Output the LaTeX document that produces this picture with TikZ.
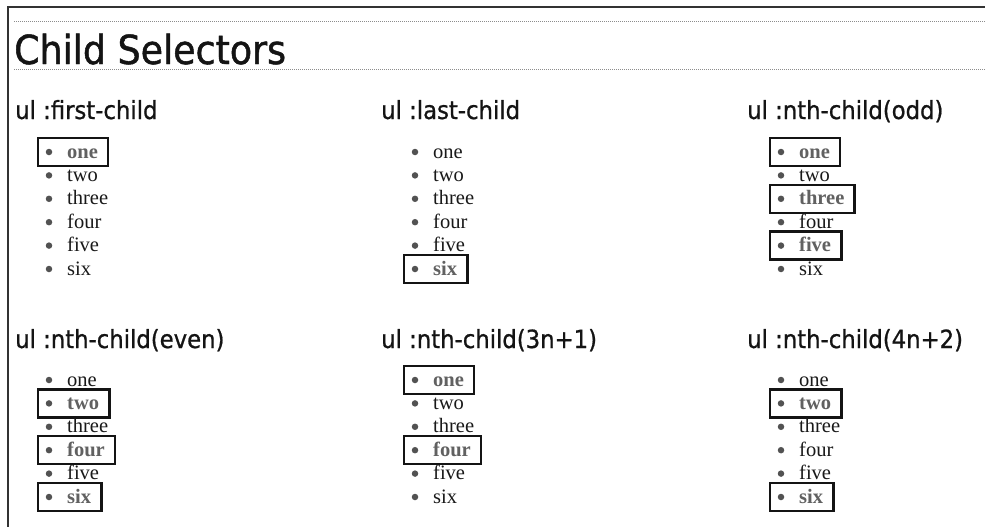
\documentclass[tikz,border=0pt]{standalone}
\usepackage{fontspec}
\setmainfont{Liberation Serif}
\newfontfamily\tfont[FakeStretch=0.91,FakeBold=1.2]{DejaVu Sans}
\newfontfamily\hfont[FakeStretch=0.91,FakeBold=0.8]{DejaVu Sans}
\tikzset{
  titletext/.style={font=\tfont\fontsize{40}{40}\selectfont, anchor=base west, inner sep=0pt, text=black!92},
  headtext/.style={font=\hfont\fontsize{25}{25}\selectfont, anchor=base west, inner sep=0pt, text=black!92},
  itemtext/.style={font=\fontsize{20.5}{20.5}\selectfont, anchor=base west, inner sep=0pt, text=black!90},
  hitemtext/.style={font=\fontsize{20.5}{20.5}\selectfont\bfseries, anchor=base west, inner sep=0pt, text=black!62},
  bulletdot/.style={circle, fill=black!68, draw=none, inner sep=0pt, minimum size=6.5pt},
  hbox/.style={draw=black!92, line width=2.5pt},
  frameline/.style={draw=black!80, line width=1.5pt},
  dotline/.style={draw=black!45, line width=0.8pt, dash pattern=on 1pt off 1pt}
}
\newcommand\childlist[4]{%
  \foreach \w/\h [count=\i] in {#4}{%
    \pgfmathsetmacro\cy{#3+(\i-1)*23.4}%
    \node[bulletdot] (#1b\i) at (#2,\cy) {};
    \ifnum\h=1
      \node[hitemtext] (#1t\i) at (#2+18,\cy+6) {\w};
      \coordinate (#1r\i) at ([xshift=10pt]#1t\i.east);
      \coordinate (#1y\i) at (#2,\cy+14);
      \draw[hbox] (#2-11,\cy-14) rectangle (#1r\i |- #1y\i);
    \else
      \node[itemtext] (#1t\i) at (#2+18,\cy+6) {\w};
    \fi
  }%
}
\begin{document}
\begin{tikzpicture}[x=1pt,y=-1pt]
\useasboundingbox (0,0) rectangle (985,527);
\fill[white] (0,0) rectangle (985,527);
% frame
\coordinate (fbl) at (8,527);
\coordinate (ftl) at (8,7);
\coordinate (ftr) at (985,7);
\draw[frameline] (fbl) -- (ftl) -- (ftr);
% dotted rules
\coordinate (d1a) at (14,21);
\coordinate (d1b) at (985,21);
\coordinate (d2a) at (14,69);
\coordinate (d2b) at (985,69);
\draw[dotline] (d1a) -- (d1b);
\draw[dotline] (d2a) -- (d2b);
% title
\node[titletext] (title) at (14,64) {Child Selectors};
% headings
\node[headtext] (h1) at (15,119) {ul :first-child};
\node[headtext] (h2) at (381,119) {ul :last-child};
\node[headtext] (h3) at (747,119) {ul :nth-child(odd)};
\node[headtext] (h4) at (15,348) {ul :nth-child(even)};
\node[headtext] (h5) at (381,348) {ul :nth-child(3n+1)};
\node[headtext] (h6) at (747,348) {ul :nth-child(4n+2)};
% lists
\childlist{a}{49}{152}{one/1,two/0,three/0,four/0,five/0,six/0}
\childlist{b}{415}{152}{one/0,two/0,three/0,four/0,five/0,six/1}
\childlist{c}{781}{152}{one/1,two/0,three/1,four/0,five/1,six/0}
\childlist{d}{49}{380}{one/0,two/1,three/0,four/1,five/0,six/1}
\childlist{e}{415}{380}{one/1,two/0,three/0,four/1,five/0,six/0}
\childlist{f}{781}{380}{one/0,two/1,three/0,four/0,five/0,six/1}
\end{tikzpicture}
\end{document}
